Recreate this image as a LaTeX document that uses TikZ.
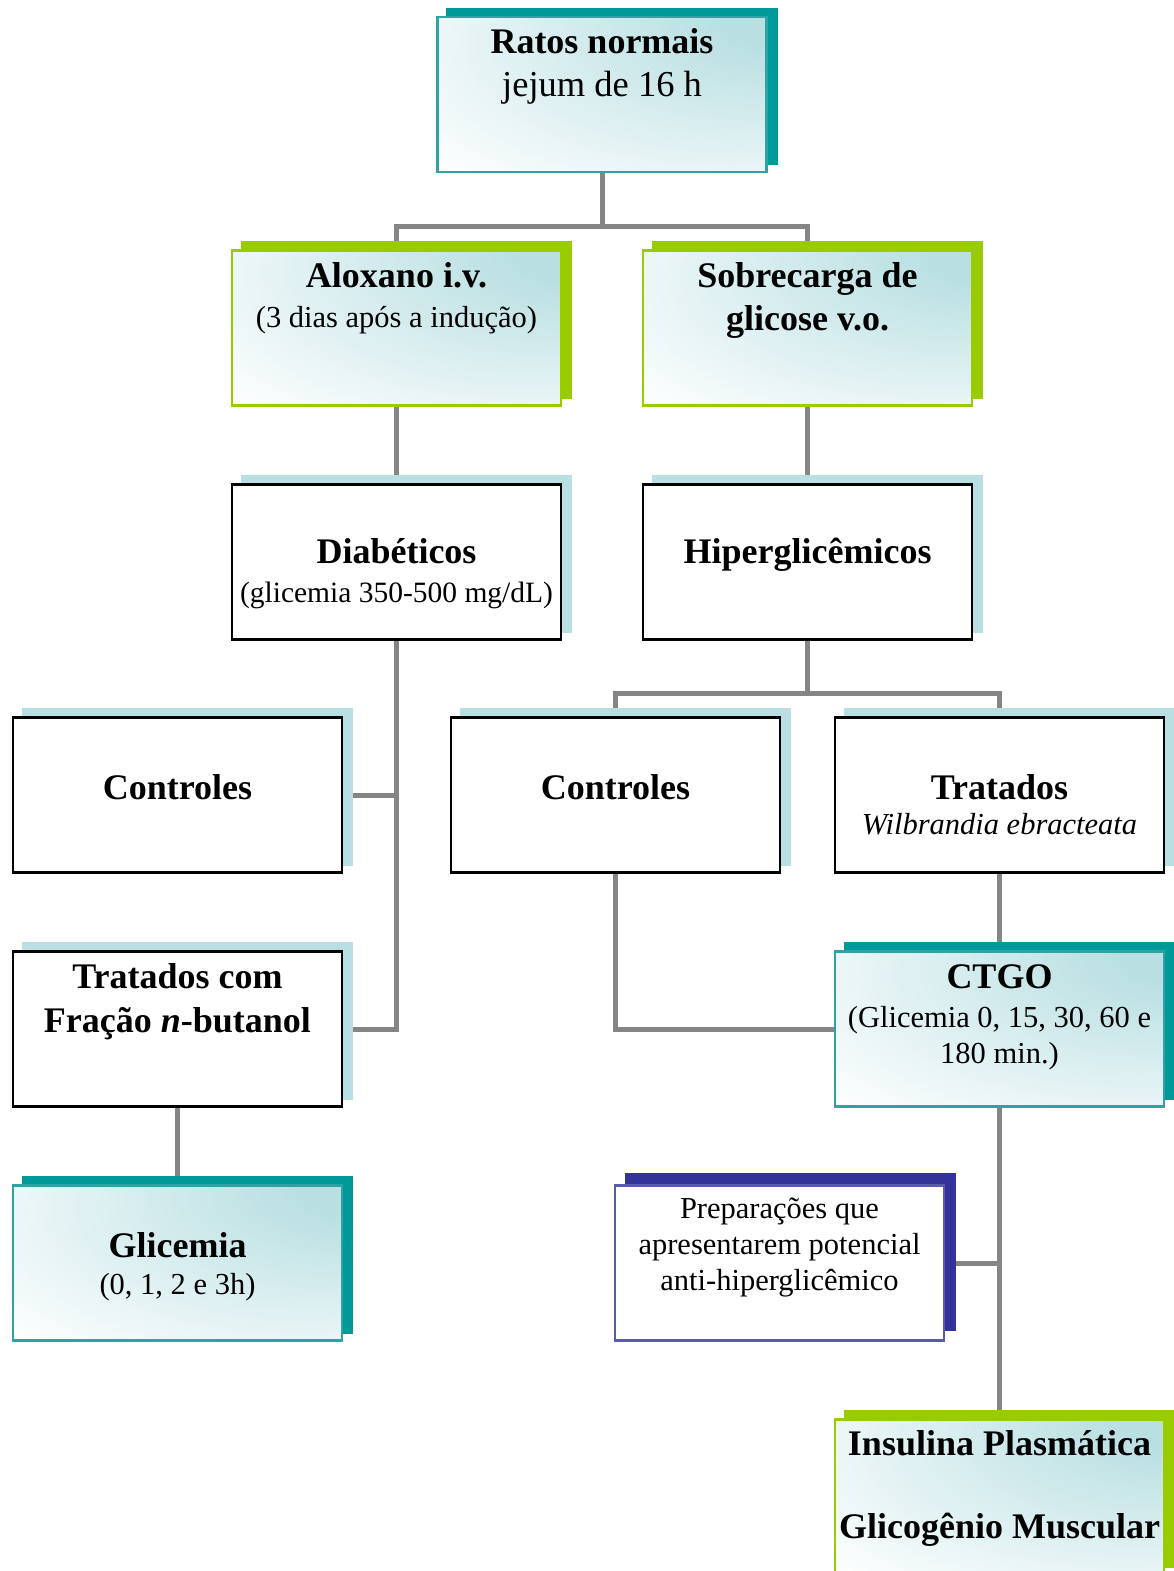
\documentclass[tikz,border=0pt]{standalone}
\usepackage{fontspec}
\setmainfont{Liberation Serif}
\definecolor{tealdark}{HTML}{009999}
\definecolor{teallight}{HTML}{B9DFE2}
\definecolor{tealedge}{HTML}{2FA3A3}
\definecolor{limegreen}{HTML}{99CC00}
\definecolor{navyblue}{HTML}{333399}
\definecolor{navyedge}{HTML}{5A5AB0}
\definecolor{linegray}{HTML}{858585}
\pgfdeclareradialshading{glowtr}{\pgfpoint{32bp}{28bp}}{color(0bp)=(teallight); color(10bp)=(teallight); color(55bp)=(white); color(100bp)=(white)}
\newcommand\hb{\fontsize{36}{43}\selectfont\bfseries}
\newcommand\hr{\fontsize{36.5}{43}\selectfont}
\newcommand\sr{\fontsize{30.5}{37}\selectfont}
\tikzset{
  box/.style={rectangle, minimum width=329pt, minimum height=155pt, inner sep=0pt, line width=2.5pt},
  glowbox/.style={box, shading=glowtr},
  plainbox/.style={box, draw=black, fill=white},
  wire/.style={draw=linegray, line width=5pt},
  txt/.style={anchor=base, inner sep=0pt}
}
\newcommand\shadowat[3]{\fill[#3] ([xshift=10pt,yshift=8pt]#1.south west) rectangle ([xshift=10pt,yshift=8pt]#1.north east);}
\begin{document}
\begin{tikzpicture}[x=1pt,y=-1pt]
\useasboundingbox (0,0) rectangle (1173,1571);
\coordinate (cratos) at (602,94.5);
\coordinate (calox) at (396.5,328);
\coordinate (csobre) at (807.5,328);
\coordinate (cdiab) at (396.5,562);
\coordinate (chiper) at (807.5,562);
\coordinate (ccontL) at (177.5,795);
\coordinate (ccontM) at (615.5,795);
\coordinate (ctrat) at (999.5,795);
\coordinate (ctratcom) at (177.5,1029);
\coordinate (cctgo) at (999.5,1029);
\coordinate (cglic) at (177.5,1263);
\coordinate (cprep) at (779.5,1263);
\coordinate (cinsul) at (999.5,1497);
\foreach \n in {ratos,alox,sobre,diab,hiper,contL,contM,trat,tratcom,ctgo,glic,prep,insul}{
  \node[box] (\n) at (c\n) {};
}
\coordinate (bus1) at (602,226);
\coordinate (bus2) at (807.5,693);
% connectors
\draw[wire] (ratos.south) -- (bus1);
\draw[wire] (alox.north) |- (bus1) -| (sobre.north);
\draw[wire] (alox.south) -- (diab.north);
\draw[wire] (sobre.south) -- (hiper.north);
\draw[wire] (diab.south) |- (tratcom.east);
\draw[wire] (contL.east) -- (contL.east -| diab.south);
\draw[wire] (hiper.south) -- (bus2);
\draw[wire] (contM.north) |- (bus2) -| (trat.north);
\draw[wire] (contM.south) |- (ctgo.west);
\draw[wire] (trat.south) -- (ctgo.north);
\draw[wire] (ctgo.south) -- (insul.north);
\draw[wire] (prep.east) -- (prep.east -| ctgo.south);
\draw[wire] (tratcom.south) -- (glic.north);
% shadows
\shadowat{ratos}{}{tealdark}
\shadowat{alox}{}{limegreen}
\shadowat{sobre}{}{limegreen}
\shadowat{diab}{}{teallight}
\shadowat{hiper}{}{teallight}
\shadowat{contL}{}{teallight}
\shadowat{contM}{}{teallight}
\shadowat{trat}{}{teallight}
\shadowat{tratcom}{}{teallight}
\shadowat{ctgo}{}{tealdark}
\shadowat{glic}{}{tealdark}
\fill[navyblue] ([xshift=11pt,yshift=11pt]prep.south west) rectangle ([xshift=11pt,yshift=11pt]prep.north east);
\shadowat{insul}{}{limegreen}
% boxes
\node[glowbox, draw=tealedge] (ratosB) at (cratos) {};
\node[glowbox, draw=limegreen] (aloxB) at (calox) {};
\node[glowbox, draw=limegreen] (sobreB) at (csobre) {};
\node[plainbox] (diabB) at (cdiab) {};
\node[plainbox] (hiperB) at (chiper) {};
\node[plainbox] (contLB) at (ccontL) {};
\node[plainbox] (contMB) at (ccontM) {};
\node[plainbox] (tratB) at (ctrat) {};
\node[plainbox] (tratcomB) at (ctratcom) {};
\node[glowbox, draw=tealedge] (ctgoB) at (cctgo) {};
\node[glowbox, draw=tealedge] (glicB) at (cglic) {};
\node[plainbox, draw=navyedge] (prepB) at (cprep) {};
\node[glowbox, draw=limegreen] (insulB) at (cinsul) {};
% texts
\node[txt] (t1) at (602,53) {\hb Ratos normais};
\node[txt] (t2) at (602,96) {\hr jejum de 16 h};
\node[txt] (t3) at (396.5,287) {\hb Aloxano i.v.};
\node[txt] (t4) at (396.5,327) {\sr (3 dias após a indução)};
\node[txt] (t5) at (807.5,287) {\hb Sobrecarga de};
\node[txt] (t6) at (807.5,330) {\hb glicose v.o.};
\node[txt] (t7) at (396.5,563) {\hb Diabéticos};
\node[txt] (t8) at (396.5,602) {\fontsize{29.5}{36}\selectfont (glicemia 350-500 mg/dL)};
\node[txt] (t9) at (807.5,563) {\hb Hiperglicêmicos};
\node[txt] (t10) at (177.5,799) {\hb Controles};
\node[txt] (t11) at (615.5,799) {\hb Controles};
\node[txt] (t12) at (999.5,799) {\hb Tratados};
\node[txt] (t13) at (999.5,834) {\sr\itshape Wilbrandia ebracteata};
\node[txt] (t14) at (177.5,988) {\hb Tratados com};
\node[txt] (t15) at (177.5,1032) {\hb Fração \textit{n}-butanol};
\node[txt] (t16) at (999.5,988) {\hb CTGO};
\node[txt] (t17) at (999.5,1027) {\sr (Glicemia 0, 15, 30, 60 e};
\node[txt] (t18) at (999.5,1063) {\sr 180 min.)};
\node[txt] (t19) at (177.5,1257) {\hb Glicemia};
\node[txt] (t20) at (177.5,1294) {\sr (0, 1, 2 e 3h)};
\node[txt] (t21) at (779.5,1218) {\sr Preparações que};
\node[txt] (t22) at (779.5,1254) {\sr apresentarem potencial};
\node[txt] (t23) at (779.5,1290) {\sr anti-hiperglicêmico};
\node[txt] (t24) at (999.5,1455) {\hb Insulina Plasmática};
\node[txt] (t25) at (999.5,1538) {\hb Glicogênio Muscular};
\end{tikzpicture}
\end{document}
